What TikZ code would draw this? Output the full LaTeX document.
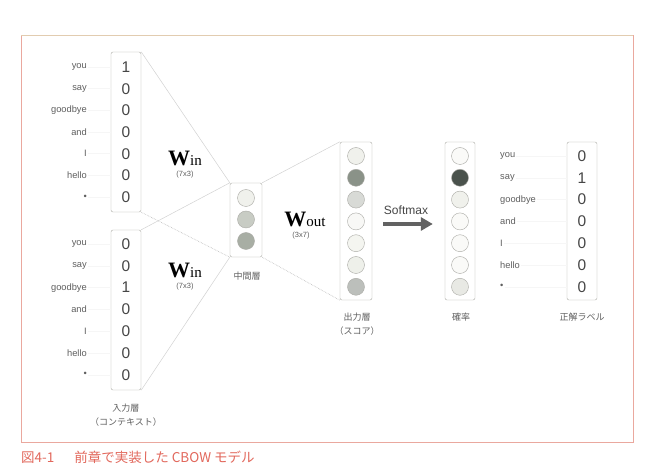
\documentclass[tikz,border=0pt]{standalone}
\usepackage{fontspec}
\setmainfont{Liberation Sans}
\newfontfamily\jpfont{Noto Sans CJK JP}
\newfontfamily\wfont{Liberation Serif}
\usetikzlibrary{arrows.meta}
\definecolor{framered}{RGB}{234,168,158}
\definecolor{framebeige}{RGB}{226,204,176}
\definecolor{captionred}{RGB}{226,104,92}
\definecolor{boxgray}{RGB}{170,170,165}
\definecolor{inkgray}{RGB}{70,70,70}
\definecolor{wordgray}{RGB}{95,95,95}
\tikzset{
	vecbox/.style={draw=boxgray, rounded corners=2pt, minimum width=30pt, inner sep=0pt},
	num/.style={text=inkgray, font=\fontsize{15.5}{16}\selectfont, inner sep=0pt},
	word/.style={text=wordgray, font=\fontsize{9.3}{10}\selectfont, inner sep=1pt},
	dimlabel/.style={text=wordgray, font=\fontsize{7.5}{8}\selectfont, inner sep=1pt},
	unit/.style={circle, draw=boxgray, minimum size=17pt, inner sep=0pt},
	jplabel/.style={text=wordgray, font=\jpfont\fontsize{9}{14}\selectfont, align=center},
	guide/.style={draw=gray!7, line width=0.4pt},
	link/.style={draw=gray!35, line width=0.5pt},
	dotlink/.style={draw=gray!55, line width=0.6pt, densely dotted},
	softarrow/.style={-{Triangle[length=12pt,width=13pt]}, line width=3.5pt, draw=inkgray!85},
}
\newcommand{\wmat}[1]{{\wfont\bfseries\fontsize{22}{22}\selectfont W}{\wfont\fontsize{15}{15}\selectfont #1}}
\begin{document}
\begin{tikzpicture}[x=1pt, y=-1pt]
	\useasboundingbox[fill=white] (0,0) rectangle (662,473);
	% frame and caption
	\draw[framered, line width=0.8pt] (21,35) rectangle (633,442);
	\draw[framebeige, line width=0.8pt] (21,35) -- (633,35);
	\node[anchor=west, text=captionred, font=\jpfont\fontsize{13.5}{15}\selectfont, inner sep=0pt] (caption) at (21,457) {図4-1\hspace{20pt}前章で実装した CBOW モデル};
	% input layers (context)
	\node[vecbox, minimum height=160pt] (in1) at (126,132) {};
	\node[vecbox, minimum height=160pt] (in2) at (126,310) {};
	\foreach \v [count=\i] in {1,0,0,0,0,0,0}
		\node[num] (in1-\i) at (126,{67+21.67*(\i-1)}) {\v};
	\foreach \v [count=\i] in {0,0,1,0,0,0,0}
		\node[num] (in2-\i) at (126,{244+21.8*(\i-1)}) {\v};
	\foreach \w [count=\i] in {you,say,goodbye,and,I,hello,•}{
		\node[word, anchor=east] (wa-\i) at (88,{67+21.67*(\i-1)}) {\w};
		\draw[guide] (wa-\i.east) -- (in1.west |- wa-\i);
		\node[word, anchor=east] (wb-\i) at (88,{244+21.8*(\i-1)}) {\w};
		\draw[guide] (wb-\i.east) -- (in2.west |- wb-\i);
	}
	\node[jplabel] (inlabel) at (126,415) {入力層\\（コンテキスト）};
	% hidden layer
	\node[vecbox, minimum width=32pt, minimum height=74pt] (hid) at (246,220) {};
	\foreach \c [count=\i] in {{240,241,236},{200,204,196},{168,174,164}}{
		\definecolor{cfill}{RGB}{\c}
		\node[unit, fill=cfill] (hid-\i) at (246,{198+21.5*(\i-1)}) {};
	}
	\node[jplabel] (hidlabel) at (247,276) {中間層};
	% weights
	\draw[link] (in1.north east) -- (hid.north west);
	\draw[dotlink] (in1.south east) -- (hid.south west);
	\draw[link] (in2.north east) -- (hid.north west);
	\draw[link] (in2.south east) -- (hid.south west);
	\node[inner sep=0pt] (win1) at (185,158) {\wmat{in}};
	\node[dimlabel] (win1dim) at (185,175) {(7x3)};
	\node[inner sep=0pt] (win2) at (185,270) {\wmat{in}};
	\node[dimlabel] (win2dim) at (185,287) {(7x3)};
	% output layer (score)
	\node[vecbox, minimum width=32pt, minimum height=158pt] (out) at (356,221) {};
	\foreach \c [count=\i] in {{240,241,236},{138,146,136},{216,218,214},{248,248,246},{244,245,240},{238,240,234},{188,191,187}}{
		\definecolor{cfill}{RGB}{\c}
		\node[unit, fill=cfill] (out-\i) at (356,{156+21.8*(\i-1)}) {};
	}
	\node[jplabel] (outlabel) at (357,324) {出力層\\（スコア）};
	\draw[link] (hid.north east) -- (out.north west);
	\draw[dotlink] (hid.south east) -- (out.south west);
	\node[inner sep=0pt] (wout) at (305,219) {\wmat{out}};
	\node[dimlabel] (woutdim) at (301,236) {(3x7)};
	% softmax
	\node[vecbox, minimum height=158pt] (prob) at (460,221) {};
	\foreach \c [count=\i] in {{250,250,248},{74,82,76},{240,241,236},{250,250,248},{250,250,248},{250,250,248},{232,233,228}}{
		\definecolor{cfill}{RGB}{\c}
		\node[unit, fill=cfill] (prob-\i) at (460,{156+21.8*(\i-1)}) {};
	}
	\draw[softarrow, shorten <=11pt, shorten >=12pt] ([yshift=-3pt]out.east) -- ([yshift=-3pt]prob.west);
	\node[text=inkgray, font=\fontsize{12}{14}\selectfont] (smlabel) at (406,210) {Softmax};
	\node[jplabel] (problabel) at (461,317) {確率};
	% correct label
	\node[vecbox, minimum height=158pt] (ans) at (582,221) {};
	\foreach \v [count=\i] in {0,1,0,0,0,0,0}
		\node[num] (ans-\i) at (582,{156+21.8*(\i-1)}) {\v};
	\foreach \w [count=\i] in {you,say,goodbye,and,I,hello,•}{
		\node[word, anchor=west] (wc-\i) at (499,{156+21.8*(\i-1)}) {\w};
		\draw[guide] (wc-\i.east) -- (ans.west |- wc-\i);
	}
	\node[jplabel] (anslabel) at (582,317) {正解ラベル};
\end{tikzpicture}
\end{document}
